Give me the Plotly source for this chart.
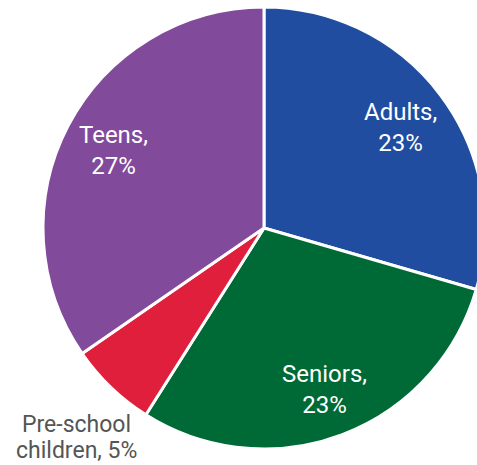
import math
import plotly.graph_objects as go

labels = ["Adults", "Seniors", "Pre-school children", "Teens"]
values = [23, 23, 5, 27]
display_text = ["Adults,<br>23%", "Seniors,<br>23%", "Pre-school<br>children, 5%", "Teens,<br>27%"]
colors = ["#204DA0", "#006A37", "#E01F3D", "#824A9A"]
inside = [True, True, False, True]

W, H = 500, 465
cx, cy, r = 264, 228, 221
label_radius = 0.77

fig = go.Figure(go.Pie(
    labels=labels,
    values=values,
    textinfo="none",
    sort=False,
    direction="clockwise",
    rotation=0,
    automargin=False,
    marker=dict(colors=colors, line=dict(color="white", width=3)),
    showlegend=False,
    hoverinfo="label+value",
    domain=dict(x=[(cx - r) / W, (cx + r) / W],
                y=[(H - cy - r) / H, (H - cy + r) / H]),
))

# inside labels placed at the middle angle of each slice
total = sum(values)
cum = 0
for lab, val, txt, ins in zip(labels, values, display_text, inside):
    mid = (cum + val / 2) / total * 2 * math.pi
    cum += val
    if not ins:
        continue
    px = cx + label_radius * r * math.sin(mid)
    py = cy - label_radius * r * math.cos(mid) + 2
    fig.add_annotation(text=txt, xref="paper", yref="paper", x=px / W, y=1 - py / H,
                       xanchor="center", yanchor="middle", showarrow=False,
                       font=dict(family="Roboto", size=24, color="white"))

# outside label for the small slice, one annotation per line
outside_lines = display_text[2].split("<br>")
line_y = [424, 450]
for txt, py in zip(outside_lines, line_y):
    fig.add_annotation(text=txt, xref="paper", yref="paper", x=76 / W, y=1 - py / H,
                       xanchor="center", yanchor="middle", showarrow=False,
                       font=dict(family="Roboto", size=23, color="#555555"))

fig.update_layout(
    width=W, height=H,
    margin=dict(l=0, r=0, t=0, b=0, autoexpand=False),
    paper_bgcolor="white",
    font=dict(family="Roboto"),
)

fig.write_html("out.html", config={"displayModeBar": False},
               post_script="document.body.style.margin='0';document.body.style.overflow='hidden';")
